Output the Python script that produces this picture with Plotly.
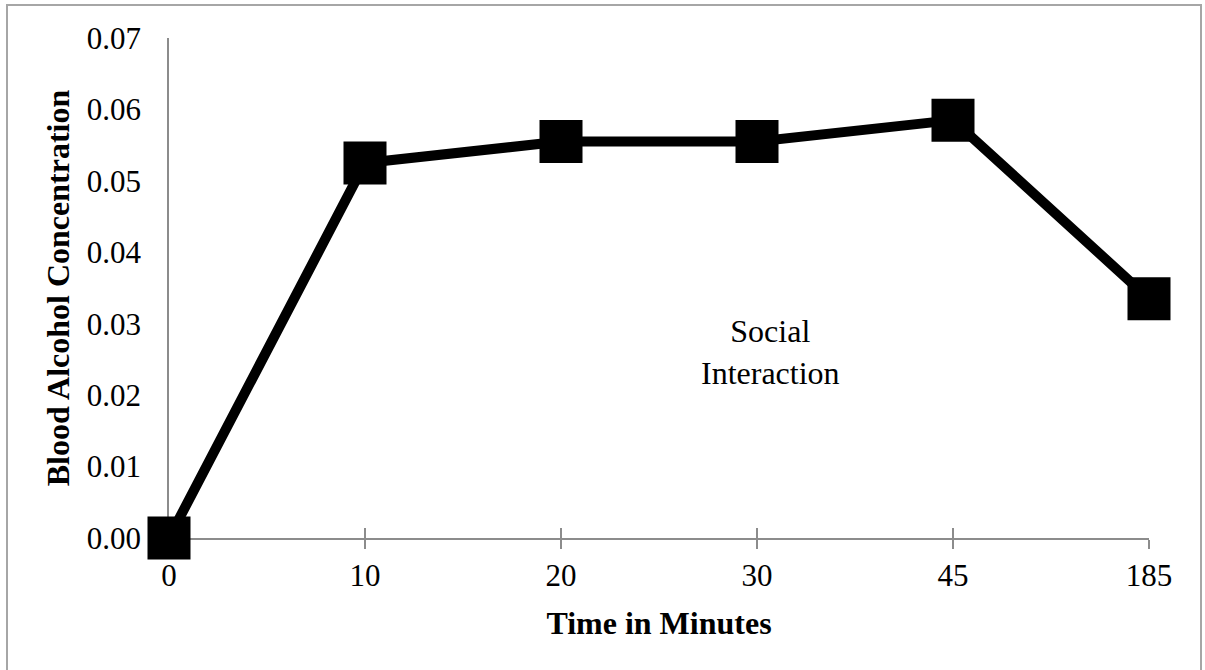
import plotly.graph_objects as go

# datos
time_labels = ["0", "10", "20", "30", "45", "185"]
bac_values = [0.0, 0.0525, 0.0555, 0.0555, 0.0585, 0.0335]
y_ticks = [0.00, 0.01, 0.02, 0.03, 0.04, 0.05, 0.06, 0.07]

FONT = "Liberation Serif"
AXIS_GRAY = "#8c8c8c"

W, H = 1205, 670
L, R, T, B = 169, 56, 38, 132
pw = W - L - R
ph = H - T - B


def px_x(p):
    # pixel -> coordenada paper
    return (p - L) / pw


def px_y(p):
    return (H - B - p) / ph


line_trace = go.Scatter(
    x=time_labels,
    y=bac_values,
    mode="lines+markers",
    line=dict(color="black", width=10),
    marker=dict(symbol="square", size=43, color="black", line_width=0),
    cliponaxis=False,
    hoverinfo="x+y",
    showlegend=False,
)

# traza invisible para las marcas que cruzan el eje x
tick_trace = go.Scatter(
    x=time_labels,
    y=bac_values,
    xaxis="x2",
    mode="lines",
    line=dict(width=0),
    opacity=0,
    hoverinfo="skip",
    showlegend=False,
)

fig = go.Figure(data=[line_trace, tick_trace])
fig.update_layout(
    width=W,
    height=H,
    margin=dict(l=L, r=R, t=T, b=B),
    paper_bgcolor="white",
    plot_bgcolor="white",
    font=dict(family=FONT, size=31, color="black"),
    xaxis=dict(
        type="category",
        range=[0, len(time_labels) - 1],
        showline=True,
        linecolor=AXIS_GRAY,
        linewidth=1.5,
        ticks="outside",
        ticklen=9,
        tickwidth=1.5,
        tickcolor=AXIS_GRAY,
        ticklabelstandoff=0,
        showgrid=False,
        zeroline=False,
        layer="below traces",
        title=dict(text="<b>Time in Minutes</b>",
                   font=dict(size=32), standoff=20),
    ),
    xaxis2=dict(
        type="category",
        matches="x",
        overlaying="x",
        anchor="y",
        showline=False,
        ticks="inside",
        ticklen=10,
        tickwidth=1.5,
        tickcolor=AXIS_GRAY,
        showticklabels=False,
        showgrid=False,
        zeroline=False,
        layer="below traces",
    ),
    yaxis=dict(
        range=[0, 0.07],
        tickvals=y_ticks,
        tickformat=".2f",
        showline=True,
        linecolor=AXIS_GRAY,
        linewidth=1.5,
        ticks="",
        ticklabelstandoff=20,
        showgrid=False,
        zeroline=False,
        layer="below traces",
        title=dict(text="<b>Blood Alcohol Concentration</b>",
                   font=dict(size=32), standoff=8),
    ),
    annotations=[
        dict(
            text="Social<br>Interaction",
            xref="paper", yref="paper",
            x=px_x(842), y=px_y(352),
            showarrow=False,
            font=dict(size=32),
            align="center",
        )
    ],
    shapes=[
        dict(
            type="rect",
            xref="paper", yref="paper",
            x0=px_x(7), x1=px_x(1201),
            y0=px_y(674), y1=px_y(5),
            line=dict(color="#a6a6a6", width=2),
            fillcolor="rgba(0,0,0,0)",
            layer="below",
        )
    ],
)

# quitar el margen del body para que la figura empiece en 0,0
fig.write_html(
    "out.html",
    config={"displayModeBar": False},
    post_script="document.body.style.margin='0';"
                "document.body.style.overflow='hidden';",
)
